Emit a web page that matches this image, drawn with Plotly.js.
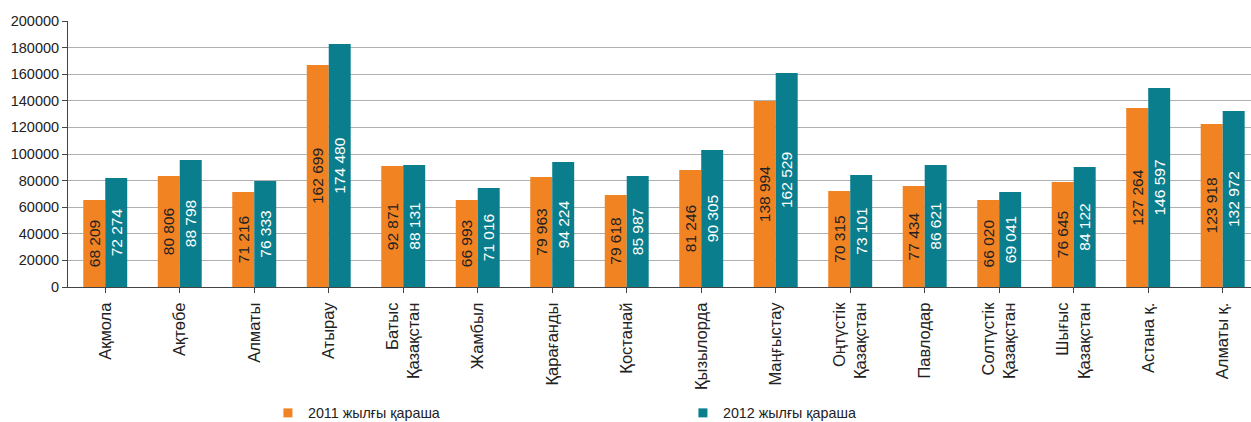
<!DOCTYPE html>
<html>
<head>
<meta charset="utf-8">
<script src="https://cdn.plot.ly/plotly-3.0.1.min.js"></script>
<style>
  html, body { margin: 0; padding: 0; background: #fff; }
  #plot { width: 1251px; height: 422px; }
</style>
</head>
<body>
<div id="plot"></div>
<script>
document.addEventListener("DOMContentLoaded", function(event) {

  const regions = [
    'Ақмола',
    'Ақтөбе',
    'Алматы',
    'Атырау',
    'Батыс<br>Қазақстан',
    'Жамбыл',
    'Қарағанды',
    'Қостанай',
    'Қызылорда',
    'Маңғыстау',
    'Оңтүстік<br>Қазақстан',
    'Павлодар',
    'Солтүстік<br>Қазақстан',
    'Шығыс<br>Қазақстан',
    'Астана қ.',
    'Алматы қ.'
  ];

  // bar heights as drawn in the picture
  const bars2011 = [65400, 83500, 71400, 166900, 91000, 65400, 82700, 69200, 88000, 139800, 72200, 75900, 65400, 78900, 134600, 122600];
  const bars2012 = [82000, 95500, 79700, 182700, 91700, 74400, 94000, 83500, 103000, 160900, 84200, 91700, 71400, 90200, 149600, 132300];

  // printed values on the bars
  const labels2011 = ['68 209', '80 806', '71 216', '162 699', '92 871', '66 993', '79 963', '79 618', '81 246', '138 994', '70 315', '77 434', '66 020', '76 645', '127 264', '123 918'];
  const labels2012 = ['72 274', '88 798', '76 333', '174 480', '88 131', '71 016', '94 224', '85 987', '90 305', '162 529', '73 101', '86 621', '69 041', '84 122', '146 597', '132 972'];

  const seriesNames = ['2011 жылғы қараша', '2012 жылғы қараша'];
  const orange = '#F28322';
  const teal = '#0A7E8D';

  const idx = regions.map(function(r, i) { return i; });

  const trace1 = {
    x: idx,
    y: bars2011,
    text: labels2011,
    type: 'bar',
    name: seriesNames[0],
    marker: { color: orange },
    textposition: 'inside',
    insidetextanchor: 'middle',
    textangle: -90,
    constraintext: 'none',
    textfont: { color: '#222', size: 15.5, family: 'Liberation Sans, Arial, sans-serif' },
    showlegend: false,
    hoverinfo: 'none'
  };

  const trace2 = {
    x: idx,
    y: bars2012,
    text: labels2012,
    type: 'bar',
    name: seriesNames[1],
    marker: { color: teal },
    textposition: 'inside',
    insidetextanchor: 'middle',
    textangle: -90,
    constraintext: 'none',
    textfont: { color: '#fff', size: 15.5, family: 'Liberation Sans, Arial, sans-serif' },
    showlegend: false,
    hoverinfo: 'none'
  };

  // legend entries with small square markers
  const legend1 = {
    x: [null], y: [null], type: 'scatter', mode: 'markers',
    name: seriesNames[0],
    marker: { symbol: 'square', size: 9, color: orange }
  };
  const legend2 = {
    x: [null], y: [null], type: 'scatter', mode: 'markers',
    name: seriesNames[1],
    marker: { symbol: 'square', size: 9, color: teal }
  };

  const data = [trace1, trace2, legend1, legend2];

  const layout = {
    width: 1251,
    height: 422,
    margin: { l: 68, r: 0, t: 21, b: 135, autoexpand: false },
    paper_bgcolor: '#fff',
    plot_bgcolor: '#fff',
    font: { family: 'Liberation Sans, Arial, sans-serif', color: '#222' },
    barmode: 'group',
    bargap: 0.41,
    bargroupgap: 0,
    xaxis: {
      automargin: false,
      range: [-0.5, 15.38],
      tickmode: 'array',
      tickvals: idx,
      ticktext: regions,
      tickangle: -90,
      tickson: 'boundaries',
      ticks: 'outside',
      ticklen: 5,
      tickcolor: '#444',
      ticklabelstandoff: 3,
      showline: true,
      linecolor: '#444',
      linewidth: 1,
      showgrid: false,
      zeroline: false,
      tickfont: { size: 16.5, color: '#222' }
    },
    yaxis: {
      automargin: false,
      range: [0, 200000],
      dtick: 20000,
      tickformat: 'd',
      ticks: 'outside',
      ticklen: 5,
      tickcolor: '#444',
      showline: true,
      linecolor: '#444',
      linewidth: 1,
      gridcolor: '#b0b0b0',
      gridwidth: 1,
      zeroline: false,
      tickfont: { size: 14.5, color: '#222' }
    },
    showlegend: true,
    legend: {
      orientation: 'h',
      x: 0.169,
      xanchor: 'left',
      y: -0.474,
      yanchor: 'middle',
      entrywidth: 370,
      font: { size: 14.3, color: '#222' },
      itemclick: false,
      itemdoubleclick: false
    }
  };

  Plotly.newPlot('plot', data, layout, { staticPlot: true });
});
</script>
</body>
</html>
